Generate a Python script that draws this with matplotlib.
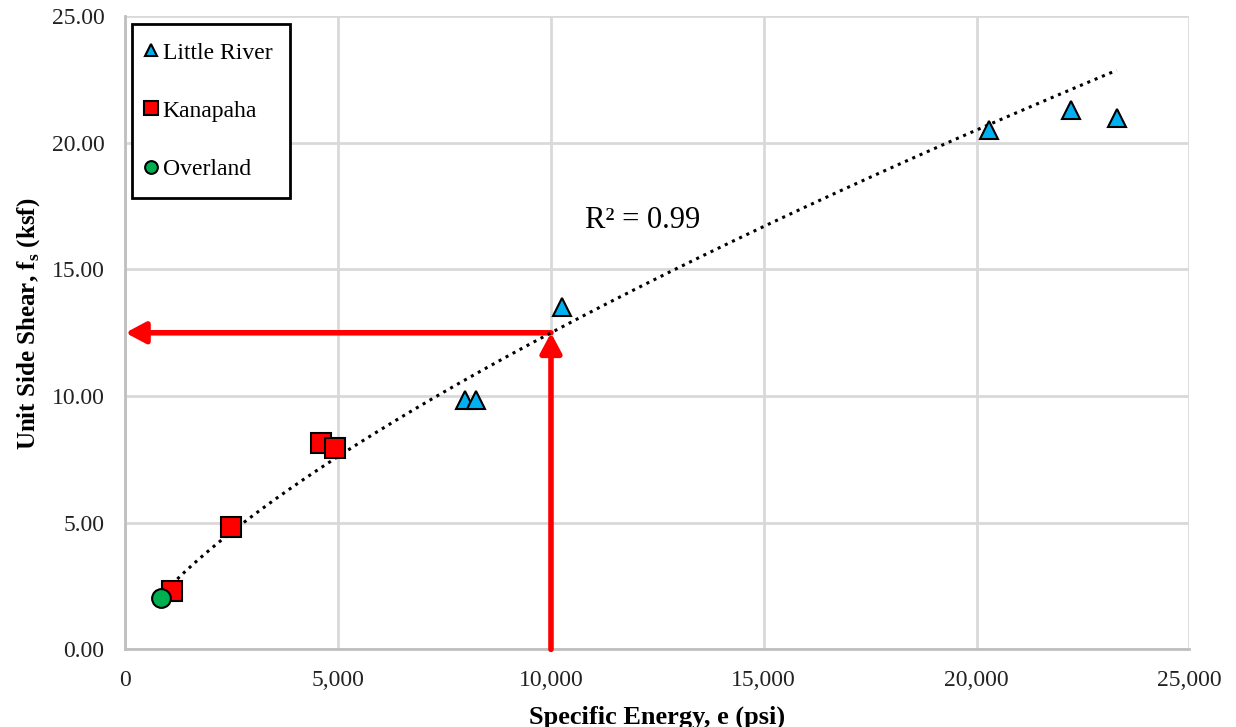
import numpy as np
import matplotlib
matplotlib.use("Agg")
import matplotlib.pyplot as plt
from matplotlib.ticker import FuncFormatter, MultipleLocator

plt.rcParams['font.family'] = ['Liberation Serif', 'DejaVu Serif']
plt.rcParams['mathtext.fontset'] = 'custom'
plt.rcParams['mathtext.rm'] = 'Liberation Serif'
plt.rcParams['mathtext.bf'] = 'Liberation Serif:bold'

# values
little_river_e = [7979, 8230, 10266, 20301, 22214, 23295]
little_river_fs = [9.83, 9.83, 13.52, 20.51, 21.30, 20.99]
kanapaha_e = [1086, 2479, 4587, 4924]
kanapaha_fs = [2.32, 4.82, 8.14, 7.94]
overland_e = [827]
overland_fs = [2.02]

# power trendline as drawn: fs = trend_fs10k * (e / 10000) ** trend_exp
trend_fs10k = 12.5
trend_exp = 0.714
r2_text = "R\u00b2 = 0.99"

design_e = 10000
design_fs = 12.5

fig = plt.figure(figsize=(12.36, 7.27), dpi=100)
ax = fig.add_axes([0.1015, 0.1067, 0.8607, 0.8711])

all_e = little_river_e + kanapaha_e + overland_e
xe = np.linspace(min(all_e), max(all_e), 200)
ax.plot(xe, trend_fs10k * (xe / 10000) ** trend_exp, color='black', lw=2.2,
        ls=(0, (1, 1.6)), zorder=4)

# red arrows
arrow = dict(arrowstyle='-|>,head_length=0.75,head_width=0.4', color='red',
             lw=4, shrinkA=0, shrinkB=0, mutation_scale=16)
ax.annotate('', xy=(design_e, design_fs), xytext=(design_e, 0),
            arrowprops=arrow, annotation_clip=False, zorder=3)
ax.annotate('', xy=(0, design_fs), xytext=(design_e, design_fs),
            arrowprops=arrow, annotation_clip=False, zorder=3)

ax.plot(little_river_e, little_river_fs, ls='none', marker='^', ms=13, mfc='#00B0F0',
        mec='black', mew=1.5, label='Little River', zorder=5)
ax.plot(kanapaha_e, kanapaha_fs, ls='none', marker='s', ms=14, mfc='#FF0000',
        mec='black', mew=1.5, label='Kanapaha', zorder=5)
ax.plot(overland_e, overland_fs, ls='none', marker='o', ms=13.5, mfc='#00B050',
        mec='black', mew=1.5, label='Overland', zorder=5)

ax.text(0.432, 0.677, r2_text, transform=ax.transAxes, fontsize=22, va='center', ha='left')

ax.set_xlim(0, 25000)
ax.set_ylim(0, 25)
ax.xaxis.set_major_locator(MultipleLocator(5000))
ax.yaxis.set_major_locator(MultipleLocator(5))
ax.xaxis.set_major_formatter(FuncFormatter(lambda v, p: f"{v:,.0f}" if v else "0"))
ax.yaxis.set_major_formatter(FuncFormatter(lambda v, p: f"{v:.2f}"))
ax.tick_params(length=0, labelsize=17, colors='#222222')
ax.tick_params(axis='x', pad=15)
ax.tick_params(axis='y', pad=15)
ax.grid(True, color='#D9D9D9', lw=2)
ax.set_axisbelow(True)
for s in ['top', 'right']:
    ax.spines[s].set_visible(False)
for s in ['left', 'bottom']:
    ax.spines[s].set_color('#BFBFBF')
    ax.spines[s].set_linewidth(2)

ax.set_xlabel('Specific Energy, e (psi)', fontsize=19, fontweight='bold', va='top')
ax.xaxis.set_label_coords(0.5, -0.088)
ax.set_ylabel(r'Unit Side Shear, f$_{\mathbf{s}}$ (ksf)', fontsize=18, fontweight='bold')
ax.yaxis.set_label_coords(-0.078, 0.514)

leg = ax.legend(loc='upper left', bbox_to_anchor=(0.006, 0.987), fontsize=17, markerscale=0.68,
                handlelength=0.1, handletextpad=0.45, labelspacing=1.55, borderpad=0.75,
                fancybox=False, framealpha=1, borderaxespad=0)
leg.get_frame().set_edgecolor('black')
leg.get_frame().set_linewidth(2)

fig.savefig('out.png', dpi=100)
